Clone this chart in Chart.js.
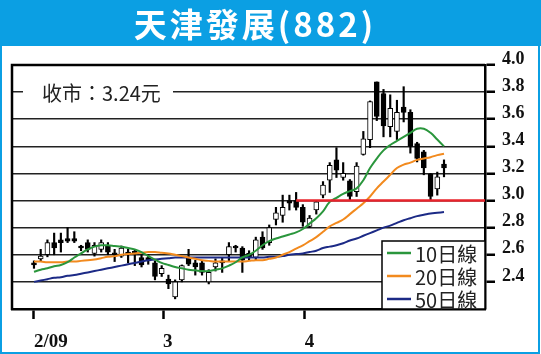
<!DOCTYPE html>
<html>
<head>
<meta charset="utf-8">
<script src="https://cdn.jsdelivr.net/npm/chart.js@4.4.1/dist/chart.umd.min.js"></script>
<style>
  html, body { margin: 0; padding: 0; background: #fff; }
  canvas { display: block; }
</style>
</head>
<body>
<canvas id="chart" width="541" height="354"></canvas>
<script>
const title = "天津發展(882)";
const closeNote = "收市：3.24元";

// daily candles, one per trading day (Feb - Apr)
const opens  = [2.54, 2.57, 2.60, 2.69, 2.71, 2.72, 2.72, 2.65, 2.69, 2.61, 2.64, 2.67, 2.60, 2.59, 2.62, 2.62,
                2.58, 2.58, 2.54, 2.46, 2.42, 2.29, 2.415, 2.58, 2.54, 2.54, 2.40, 2.51, 2.55, 2.60, 2.65, 2.65,
                2.61, 2.58, 2.73, 2.69, 2.86, 2.89, 3.00, 3.00, 2.95, 2.81, 2.93, 3.04, 3.15, 3.30, 3.17, 3.145,
                3.065, 3.34, 3.45, 3.875, 3.79, 3.545, 3.51, 3.69, 3.65, 3.42, 3.36, 3.195, 3.085, 3.27];
const highs  = [2.555, 2.64, 2.71, 2.76, 2.76, 2.80, 2.77, 2.67, 2.71, 2.69, 2.71, 2.69, 2.64, 2.665, 2.64, 2.64,
                2.60, 2.60, 2.555, 2.52, 2.45, 2.415, 2.525, 2.64, 2.56, 2.555, 2.49, 2.57, 2.58, 2.69, 2.67, 2.66,
                2.63, 2.73, 2.77, 2.82, 2.95, 3.04, 3.04, 3.06, 2.97, 2.89, 3.00, 3.14, 3.28, 3.39, 3.28, 3.155,
                3.28, 3.51, 3.735, 3.875, 3.82, 3.78, 3.74, 3.84, 3.67, 3.43, 3.37, 3.20, 3.21, 3.30];
const lows   = [2.50, 2.55, 2.585, 2.60, 2.62, 2.69, 2.69, 2.63, 2.62, 2.59, 2.62, 2.60, 2.55, 2.58, 2.54, 2.52,
                2.51, 2.53, 2.415, 2.44, 2.35, 2.275, 2.40, 2.52, 2.45, 2.45, 2.385, 2.48, 2.47, 2.55, 2.62, 2.47,
                2.56, 2.56, 2.64, 2.67, 2.82, 2.84, 2.93, 2.93, 2.81, 2.80, 2.90, 3.02, 3.06, 3.17, 3.15, 3.00,
                3.03, 3.335, 3.39, 3.59, 3.47, 3.47, 3.45, 3.58, 3.35, 3.285, 3.19, 3.005, 3.04, 3.175];
const closes = [2.525, 2.59, 2.69, 2.65, 2.69, 2.70, 2.70, 2.65, 2.64, 2.67, 2.69, 2.62, 2.60, 2.65, 2.60, 2.61,
                2.525, 2.555, 2.44, 2.50, 2.385, 2.40, 2.52, 2.53, 2.51, 2.47, 2.47, 2.54, 2.54, 2.66, 2.65, 2.56,
                2.58, 2.71, 2.65, 2.80, 2.91, 2.95, 2.98, 2.95, 2.84, 2.87, 2.99, 3.115, 3.26, 3.225, 3.20, 3.03,
                3.255, 3.455, 3.73, 3.62, 3.55, 3.68, 3.65, 3.65, 3.40, 3.31, 3.24, 3.03, 3.175, 3.24];

const ma10 = [2.475, 2.49, 2.50, 2.515, 2.525, 2.545, 2.58, 2.61, 2.64, 2.66, 2.67, 2.67, 2.665, 2.66, 2.65, 2.64,
              2.62, 2.59, 2.565, 2.54, 2.525, 2.51, 2.50, 2.49, 2.485, 2.48, 2.48, 2.49, 2.50, 2.52, 2.545, 2.58,
              2.60, 2.63, 2.67, 2.70, 2.72, 2.735, 2.75, 2.765, 2.79, 2.83, 2.87, 2.92, 2.99, 3.02, 3.05, 3.07,
              3.09, 3.15, 3.24, 3.31, 3.37, 3.41, 3.44, 3.47, 3.50, 3.53, 3.53, 3.50, 3.45, 3.40];
const ma20 = [2.55, 2.55, 2.545, 2.545, 2.545, 2.55, 2.55, 2.555, 2.56, 2.565, 2.575, 2.585, 2.59, 2.60, 2.605, 2.61,
              2.615, 2.62, 2.62, 2.615, 2.61, 2.60, 2.59, 2.58, 2.57, 2.56, 2.555, 2.55, 2.55, 2.55, 2.55, 2.55,
              2.555, 2.56, 2.56, 2.57, 2.58, 2.60, 2.62, 2.645, 2.67, 2.70, 2.73, 2.77, 2.81, 2.835, 2.86, 2.90,
              2.94, 2.98, 3.03, 3.09, 3.14, 3.19, 3.24, 3.265, 3.28, 3.30, 3.31, 3.32, 3.335, 3.345];
const ma50 = [2.40, 2.41, 2.42, 2.43, 2.435, 2.445, 2.45, 2.46, 2.47, 2.48, 2.49, 2.50, 2.51, 2.52, 2.53, 2.54,
              2.55, 2.56, 2.565, 2.57, 2.575, 2.58, 2.58, 2.58, 2.58, 2.58, 2.58, 2.58, 2.58, 2.58, 2.58, 2.58,
              2.58, 2.58, 2.58, 2.585, 2.585, 2.59, 2.60, 2.605, 2.61, 2.62, 2.63, 2.65, 2.66, 2.67, 2.685, 2.705,
              2.72, 2.74, 2.76, 2.78, 2.80, 2.815, 2.835, 2.855, 2.87, 2.885, 2.895, 2.905, 2.91, 2.915];
const maLabels = ["10日線", "20日線", "50日線"];
const maColors = ["#2a963c", "#f28a1e", "#1c2a86"];

const yTicks = [2.4, 2.6, 2.8, 3.0, 3.2, 3.4, 3.6, 3.8, 4.0];
const xTickLabels = ["2/09", "3", "4"];
const xTickIndex = [0, 19.2, 40.3];
const supportLevel = 3.0;
const supportFrom = 39;

const pts = arr => arr.map((v, i) => ({ x: i, y: v }));

const wicks = highs.map((h, i) => ({ x: i, y: [lows[i], h] }));
const bodies = opens.map((o, i) => ({ x: i, y: [Math.min(o, closes[i]), Math.max(o, closes[i])] }));
const bodyFill = opens.map((o, i) => closes[i] > o ? "#fff" : "#000");

const frame = {
  id: "frame",
  beforeDraw(chart) {
    const { ctx, width, height } = chart;
    ctx.save();
    ctx.fillStyle = "#fff";
    ctx.fillRect(0, 0, width, height);
    ctx.fillStyle = "#0b9fe3";
    ctx.fillRect(0, 0, width, 46);
    ctx.strokeStyle = "#0b9fe3";
    ctx.lineWidth = 2;
    ctx.strokeRect(1, 1, width - 3, height - 2);
    ctx.fillStyle = "#fff";
    ctx.font = 'bold 33px "Noto Sans CJK TC"';
    ctx.textAlign = "center";
    ctx.textBaseline = "middle";
    ctx.letterSpacing = "3px";
    ctx.fillText(title, 255, 24);
    ctx.restore();
  },
  afterDraw(chart) {
    const { ctx, chartArea: a } = chart;
    const ys = chart.scales.y;
    ctx.save();
    ctx.strokeStyle = "#000";
    ctx.lineWidth = 2.5;
    ctx.beginPath();
    ctx.moveTo(a.left, a.bottom + 1);
    ctx.lineTo(a.left, a.top);
    ctx.lineTo(a.right, a.top);
    ctx.stroke();

    // close price note sits on the 3.8 grid line
    const ny = ys.getPixelForValue(3.8);
    ctx.fillStyle = "#fff";
    ctx.fillRect(a.left + 11, ny - 12, 150, 24);
    ctx.fillStyle = "#222";
    ctx.font = '20px "Noto Sans CJK TC"';
    ctx.textAlign = "left";
    ctx.textBaseline = "middle";
    ctx.fillText(closeNote, a.left + 30, ny + 1);

    // legend box, bottom right
    const bw = 103, bh = 68;
    const bx = a.right - bw, by = a.bottom - bh;
    ctx.fillStyle = "#fff";
    ctx.fillRect(bx, by, bw, bh);
    ctx.strokeStyle = "#000";
    ctx.lineWidth = 1.5;
    ctx.strokeRect(bx, by, bw, bh);
    maLabels.forEach((lab, i) => {
      const ry = by + 12 + i * 23;
      ctx.strokeStyle = maColors[i];
      ctx.lineWidth = 2.5;
      ctx.beginPath();
      ctx.moveTo(bx + 5, ry);
      ctx.lineTo(bx + 29, ry);
      ctx.stroke();
      ctx.fillStyle = "#222";
      ctx.fillText(lab, bx + 33, ry + 1);
    });
    ctx.restore();
  }
};

const maSet = (data, i) => ({
  type: "line",
  label: maLabels[i],
  data: pts(data),
  borderColor: maColors[i],
  borderWidth: 2,
  pointRadius: 0,
  tension: 0.4,
  order: 1
});

new Chart(document.getElementById("chart"), {
  type: "bar",
  data: {
    datasets: [
      {
        type: "line",
        label: "support",
        data: [{ x: supportFrom, y: supportLevel }, { x: 67.1, y: supportLevel }],
        borderColor: "#e8232b",
        borderWidth: 2.5,
        pointRadius: 0,
        order: 0
      },
      maSet(ma10, 0),
      maSet(ma20, 1),
      maSet(ma50, 2),
      {
        label: "body",
        data: bodies,
        backgroundColor: bodyFill,
        borderColor: "#000",
        borderWidth: 1,
        borderSkipped: false,
        barThickness: 5,
        minBarLength: 2,
        grouped: false,
        order: 2
      },
      {
        label: "wick",
        data: wicks,
        backgroundColor: "#000",
        barThickness: 1.5,
        grouped: false,
        order: 3
      }
    ]
  },
  options: {
    responsive: false,
    animation: false,
    devicePixelRatio: 1,
    layout: { padding: { left: 12, top: 65, right: 0, bottom: 0 } },
    plugins: { legend: { display: false }, tooltip: { enabled: false } },
    scales: {
      x: {
        type: "linear",
        min: -3.27,
        max: 67.1,
        offset: false,
        afterFit: s => { s.height = 45; },
        afterBuildTicks: s => { s.ticks = xTickIndex.map(v => ({ value: v })); },
        grid: { offset: false, drawOnChartArea: false, drawTicks: true, tickLength: 10, tickWidth: 2.5, tickColor: "#000" },
        border: { display: true, color: "#000", width: 2.5 },
        ticks: {
          autoSkip: false,
          maxRotation: 0,
          align: "start",
          padding: 12,
          color: "#111",
          font: { family: "Liberation Serif", size: 19, weight: "bold" },
          callback: (v, i) => xTickLabels[i]
        }
      },
      y: {
        position: "right",
        min: 2.2,
        max: 4.0,
        afterFit: s => { s.width = 56; },
        afterBuildTicks: s => { s.ticks = yTicks.map(v => ({ value: v })); },
        grid: { color: "#222", lineWidth: 1.5, drawTicks: true, tickLength: 10, tickWidth: 2.5, tickColor: "#000" },
        border: { display: true, color: "#000", width: 2.5 },
        ticks: {
          padding: 7,
          labelOffset: -6,
          color: "#111",
          font: { family: "Liberation Serif", size: 18, weight: "bold" },
          callback: v => v.toFixed(1)
        }
      }
    }
  },
  plugins: [frame]
});
</script>
</body>
</html>
